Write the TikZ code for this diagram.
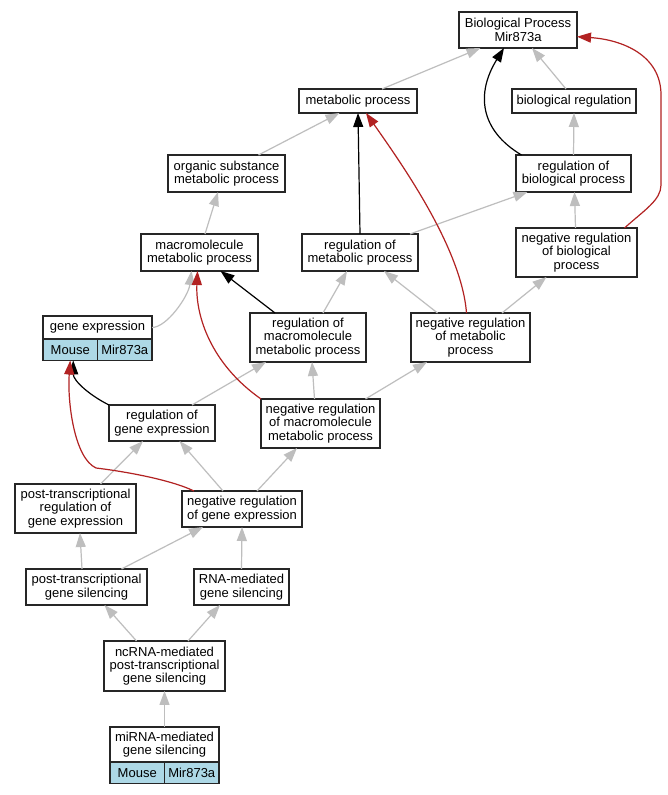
\documentclass[tikz,border=0pt]{standalone}
\usepackage{fontspec}
\setmainfont{Liberation Sans}
\usetikzlibrary{arrows.meta,positioning}
\definecolor{edgegray}{HTML}{BEBEBE}
\definecolor{negred}{HTML}{B22222}
\definecolor{cellblue}{HTML}{ADD8E6}

\begin{document}
\begin{tikzpicture}[x=1pt,y=1pt,
        term/.style={draw=black!85,line width=1.5pt,fill=white,align=center,
            inner sep=1pt,outer sep=0pt,font=\fontsize{13}{13.3}\selectfont},
        cell/.style={term,fill=cellblue,minimum height=21.5},
        isa/.style={draw=edgegray,line width=1.2pt,-{Triangle[length=14pt,width=10pt]}},
        reg/.style={isa,draw=black},
        negreg/.style={isa,draw=negred}]
        \fill[white] (0,0) rectangle (667,795);
        \useasboundingbox (0,0) rectangle (667,795);

        \node[term,minimum width=118,minimum height=36] (bp) at (518,765) {Biological Process\\Mir873a};
        \node[term,minimum width=118,minimum height=24] (mp) at (358,694) {metabolic process};
        \node[term,minimum width=124,minimum height=24] (br) at (574,694) {biological regulation};
        \node[term,minimum width=117,minimum height=37] (osm) at (226.5,621.5) {organic substance\\metabolic process};
        \node[term,minimum width=115,minimum height=37] (rbp) at (573.5,621.5) {regulation of\\biological process};
        \node[term,minimum width=117,minimum height=37] (mmp) at (199.5,542.5) {macromolecule\\metabolic process};
        \node[term,minimum width=116,minimum height=37] (rmp) at (360,542.5) {regulation of\\metabolic process};
        \node[term,minimum width=121,minimum height=49] (nrbp) at (576.5,542.5) {negative regulation\\of biological\\process};
        \node[term,minimum width=109,minimum height=23] (ge) at (97.5,467.5) {gene expression};
        \node[cell,minimum width=54.5,anchor=north west] (geMouse) at (ge.south west) {Mouse};
        \node[cell,minimum width=54.5,anchor=north east] (geMir) at (ge.south east) {Mir873a};
        \node[term,minimum width=116,minimum height=49] (rmmp) at (308,457.5) {regulation of\\macromolecule\\metabolic process};
        \node[term,minimum width=119,minimum height=49] (nrmp) at (470.5,457.5) {negative regulation\\of metabolic\\process};
        \node[term,minimum width=106,minimum height=36] (rge) at (162,372) {regulation of\\gene expression};
        \node[term,minimum width=119,minimum height=49] (nrmmp) at (320.5,371.5) {negative regulation\\of macromolecule\\metabolic process};
        \node[term,minimum width=121,minimum height=49] (ptrge) at (75.5,286.5) {post-transcriptional\\regulation of\\gene expression};
        \node[term,minimum width=120,minimum height=36] (nrge) at (242,286) {negative regulation\\of gene expression};
        \node[term,minimum width=121,minimum height=36] (ptgs) at (86.5,208) {post-transcriptional\\gene silencing};
        \node[term,minimum width=95,minimum height=36] (rnags) at (241.5,208) {RNA-mediated\\gene silencing};
        \node[term,minimum width=121,minimum height=50] (ncgs) at (164.5,129) {ncRNA-mediated\\post-transcriptional\\gene silencing};
        \node[term,minimum width=109,minimum height=35] (mirgs) at (164.5,50.5) {miRNA-mediated\\gene silencing};
        \node[cell,minimum width=54.5,anchor=north west] (mirMouse) at (mirgs.south west) {Mouse};
        \node[cell,minimum width=54.5,anchor=north east] (mirMir) at (mirgs.south east) {Mir873a};

        \coordinate (nrbpUp) at (661,610);
        \coordinate (nrbpTop) at (661,700);
        \coordinate (geBend) at (96,327);

        % is_a
        \draw[isa] ([xshift=24]mp.north) -- ([xshift=-37.5]bp.south);
        \draw[isa] ([xshift=-8]br.north) -- ([xshift=14]bp.south);
        \draw[isa] ([xshift=32]osm.north) -- ([xshift=-18.5]mp.south);
        \draw[isa] (rbp.north) -- (br.south);
        \draw[isa] ([xshift=5.5]mmp.north) -- ([xshift=-8.5]osm.south);
        \draw[isa] ([xshift=50]rmp.north) -- ([xshift=-46]rbp.south);
        \draw[isa] ([xshift=-1]nrbp.north) -- ([xshift=1]rbp.south);
        \draw[isa] (ge.east) .. controls +(15,0) and +(-3,-25) .. ([xshift=-8]mmp.south);
        \draw[isa] ([xshift=15]rmmp.north) -- ([xshift=-13]rmp.south);
        \draw[isa] ([xshift=-33]nrmp.north) -- ([xshift=24]rmp.south);
        \draw[isa] ([xshift=31.5]nrmp.north) -- ([xshift=-30]nrbp.south);
        \draw[isa] ([xshift=30]rge.north) -- ([xshift=-42]rmmp.south);
        \draw[isa] ([xshift=-6]nrmmp.north) -- ([xshift=4]rmmp.south);
        \draw[isa] ([xshift=45]nrmmp.north) -- ([xshift=-43.5]nrmp.south);
        \draw[isa] ([xshift=25]ptrge.north) -- ([xshift=-19]rge.south);
        \draw[isa] ([xshift=-19]nrge.north) -- ([xshift=17.5]rge.south);
        \draw[isa] ([xshift=15]nrge.north) -- ([xshift=-23.5]nrmmp.south);
        \draw[isa] ([xshift=-4.5]ptgs.north) -- ([xshift=4.5]ptrge.south);
        \draw[isa] ([xshift=35]ptgs.north) -- ([xshift=-39]nrge.south);
        \draw[isa] (rnags.north) -- (nrge.south);
        \draw[isa] ([xshift=-28]ncgs.north) -- ([xshift=18]ptgs.south);
        \draw[isa] ([xshift=23.5]ncgs.north) -- ([xshift=-21.5]rnags.south);
        \draw[isa] (mirgs.north) -- (ncgs.south);

        % regulates
        \draw[reg] ([xshift=-52]rbp.north) .. controls +(-42,25) and +(-28,-45) .. ([xshift=-14]bp.south);
        \draw[reg] (rmp.north) -- (mp.south);
        \draw[reg] ([xshift=-33]rmmp.north) -- ([xshift=21]mmp.south);
        \draw[reg] (rge.north west) .. controls +(-20,10) and +(0,-20) .. ([xshift=3]geMouse.south);

        % negatively regulates
        \draw[negreg] ([xshift=-4]nrmp.north) .. controls +(-5,65) and +(35,-50) .. ([xshift=8]mp.south);
        \draw[negreg] ([xshift=48]nrbp.north) .. controls +(20,18) and +(0,-15) .. (nrbpUp)
            -- (nrbpTop) .. controls +(0,40) and +(45,-3) .. ([yshift=-6.7]bp.east);
        \draw[negreg] (nrmmp.north west) .. controls +(-50,35) and +(-2,-45) .. ([xshift=-2]mmp.south);
        \draw[negreg] ([xshift=-48]nrge.north) .. controls +(-25,12) and +(25,-3) .. (geBend)
            .. controls +(-22,10) and +(-3,-40) .. (geMouse.south);
    \end{tikzpicture}
\end{document}
